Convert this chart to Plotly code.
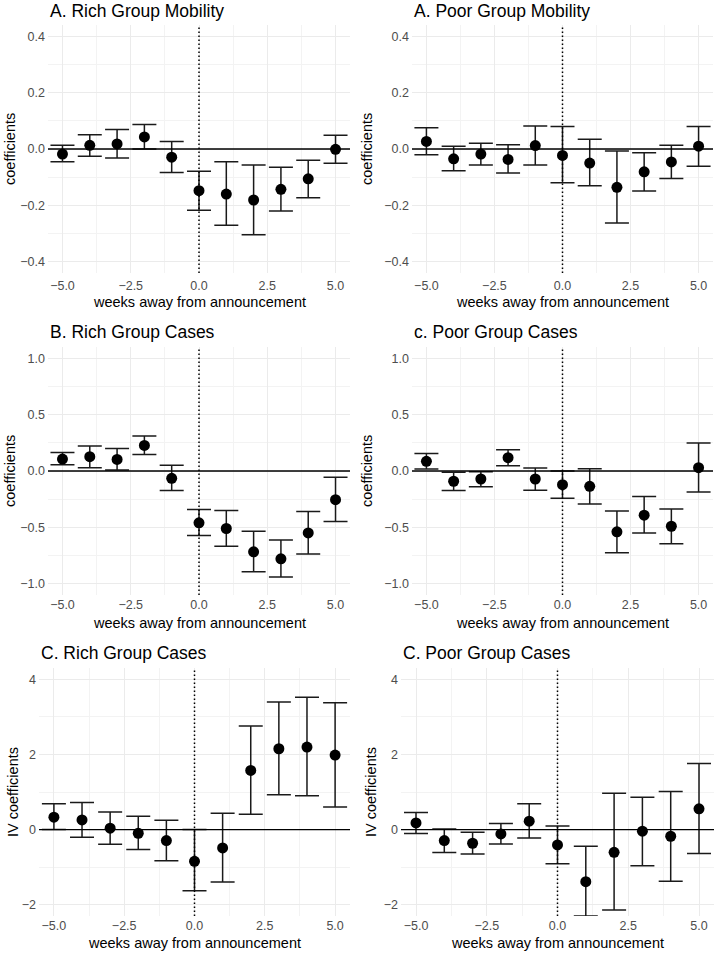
import plotly.graph_objects as go

weeks = [-5, -4, -3, -2, -1, 0, 1, 2, 3, 4, 5]

titles = ["A. Rich Group Mobility", "A. Poor Group Mobility",
          "B. Rich Group Cases", "c. Poor Group Cases",
          "C. Rich Group Cases", "C. Poor Group Cases"]
y_titles = ["coefficients", "coefficients", "coefficients", "coefficients",
            "IV coefficients", "IV coefficients"]
x_title = "weeks away from announcement"

# A. Rich mobility
rich_mob_est = [-0.018, 0.013, 0.018, 0.043, -0.029, -0.148, -0.160, -0.181, -0.143, -0.106, -0.001]
rich_mob_hi = [0.013, 0.051, 0.069, 0.087, 0.027, -0.079, -0.045, -0.057, -0.065, -0.040, 0.049]
rich_mob_lo = [-0.045, -0.026, -0.032, 0.000, -0.083, -0.217, -0.271, -0.304, -0.220, -0.173, -0.051]
# A. Poor mobility
poor_mob_est = [0.027, -0.035, -0.018, -0.037, 0.012, -0.023, -0.050, -0.136, -0.081, -0.046, 0.010]
poor_mob_hi = [0.075, 0.010, 0.020, 0.015, 0.082, 0.080, 0.035, -0.007, -0.013, 0.013, 0.080]
poor_mob_lo = [-0.020, -0.077, -0.057, -0.085, -0.057, -0.120, -0.130, -0.263, -0.149, -0.105, -0.061]
# B. Rich cases
rich_case_est = [0.106, 0.127, 0.103, 0.227, -0.065, -0.460, -0.510, -0.717, -0.779, -0.549, -0.254]
rich_case_hi = [0.165, 0.221, 0.200, 0.310, 0.050, -0.342, -0.351, -0.534, -0.611, -0.360, -0.056]
rich_case_lo = [0.056, 0.029, 0.009, 0.147, -0.174, -0.572, -0.667, -0.894, -0.941, -0.737, -0.448]
# c. Poor cases
poor_case_est = [0.086, -0.091, -0.071, 0.118, -0.071, -0.121, -0.136, -0.540, -0.392, -0.490, 0.029]
poor_case_hi = [0.156, -0.012, -0.006, 0.189, 0.027, 0.000, 0.021, -0.354, -0.227, -0.336, 0.248]
poor_case_lo = [0.018, -0.174, -0.139, 0.047, -0.171, -0.242, -0.292, -0.726, -0.549, -0.646, -0.186]
# C. Rich IV
rich_iv_est = [0.330, 0.258, 0.036, -0.098, -0.293, -0.844, -0.489, 1.573, 2.151, 2.196, 1.982]
rich_iv_hi = [0.684, 0.720, 0.470, 0.356, 0.249, 0.000, 0.436, 2.756, 3.396, 3.520, 3.378]
rich_iv_lo = [0.000, -0.204, -0.391, -0.533, -0.827, -1.627, -1.396, 0.409, 0.924, 0.898, 0.604]
# C. Poor IV
poor_iv_est = [0.178, -0.293, -0.364, -0.116, 0.222, -0.409, -1.387, -0.604, -0.044, -0.178, 0.551]
poor_iv_hi = [0.453, 0.018, -0.071, 0.160, 0.684, 0.098, -0.444, 0.969, 0.862, 1.013, 1.760]
poor_iv_lo = [-0.107, -0.613, -0.649, -0.382, -0.222, -0.907, -2.302, -2.142, -0.960, -1.378, -0.640]

panels_data = [
    (rich_mob_est, rich_mob_lo, rich_mob_hi),
    (poor_mob_est, poor_mob_lo, poor_mob_hi),
    (rich_case_est, rich_case_lo, rich_case_hi),
    (poor_case_est, poor_case_lo, poor_case_hi),
    (rich_iv_est, rich_iv_lo, rich_iv_hi),
    (poor_iv_est, poor_iv_lo, poor_iv_hi),
]

x_ticks = [-5, -2.5, 0, 2.5, 5]
x_minor = [-3.75, -1.25, 1.25, 3.75]
x_range = [-5.53, 5.53]
y_ticks_rows = [[-0.4, -0.2, 0.0, 0.2, 0.4], [-1.0, -0.5, 0.0, 0.5, 1.0], [-2, 0, 2, 4]]
y_minor_rows = [[-0.3, -0.1, 0.1, 0.3], [-0.75, -0.25, 0.25, 0.75], [-1, 1, 3]]
y_ranges = [[-0.44, 0.44], [-1.1, 1.1], [-2.3, 4.3]]
y_formats = [".1f", ".1f", "d"]

W, H = 714, 956
# panel pixel boxes (x0, x1, y0, y1)
boxes = [
    (48, 350, 25, 273), (412, 713, 25, 273),
    (48, 350, 347, 595), (412, 713, 347, 595),
    (39, 350, 668, 916), (401, 714, 668, 916),
]
x_standoff = [3, 3, 0, 0, 0, 0]
title_y = [11, 11, 332, 332, 653, 653]
xtitle_y = [302, 302, 623, 623, 943, 943]
ytitle_x = [10, 367, 10, 367, 13, 371]

fig = go.Figure()
layout = dict(width=W, height=H, margin=dict(l=0, r=0, t=0, b=0),
              plot_bgcolor="white", paper_bgcolor="white", showlegend=False,
              font=dict(family="Liberation Sans, Arial, sans-serif"))
annotations = []
shapes = []
grid_major = "#ebebeb"
grid_minor = "#f3f3f3"

for i, ((est, lo, hi), box) in enumerate(zip(panels_data, boxes)):
    n = i + 1
    row = i // 2
    sfx = "" if n == 1 else str(n)
    x0, x1, y0, y1 = box
    fig.add_trace(go.Scatter(
        x=weeks, y=est, mode="markers",
        marker=dict(color="black", size=11),
        error_y=dict(type="data", symmetric=False,
                     array=[h - e for h, e in zip(hi, est)],
                     arrayminus=[e - l for e, l in zip(est, lo)],
                     color="#1a1a1a", thickness=1.5, width=12),
        xaxis="x" + sfx, yaxis="y" + sfx, cliponaxis=False))
    layout["xaxis" + sfx] = dict(
        domain=[x0 / W, x1 / W], anchor="y" + sfx, range=x_range,
        tickmode="array", tickvals=x_ticks, tickformat=".1f",
        showgrid=True, gridcolor=grid_major, gridwidth=1, zeroline=False,
        showline=False, ticks="", ticklabelstandoff=x_standoff[i],
        tickfont=dict(size=12.5, color="#4d4d4d"),
        minor=dict(tickmode="array", tickvals=x_minor,
                   showgrid=True, gridcolor=grid_minor, gridwidth=1, ticks=""),
    )
    layout["yaxis" + sfx] = dict(
        domain=[1 - y1 / H, 1 - y0 / H], anchor="x" + sfx, range=y_ranges[row],
        tickmode="array", tickvals=y_ticks_rows[row], tickformat=y_formats[row],
        showgrid=True, gridcolor=grid_major, gridwidth=1, zeroline=False,
        showline=False, ticks="", ticklabelstandoff=2,
        tickfont=dict(size=12.5, color="#4d4d4d"),
        minor=dict(tickmode="array", tickvals=y_minor_rows[row],
                   showgrid=True, gridcolor=grid_minor, gridwidth=1, ticks=""),
    )
    shapes.append(dict(type="line", xref="x" + sfx, x0=x_range[0], x1=x_range[1],
                       yref="y" + sfx, y0=0, y1=0,
                       line=dict(color="black", width=1.4), layer="above"))
    yr = y_ranges[row]
    shapes.append(dict(type="line", xref="x" + sfx, x0=0, x1=0,
                       yref="y" + sfx, y0=yr[0], y1=yr[1],
                       line=dict(color="black", width=1.5, dash="1.5px,2.5px"), layer="above"))
    annotations.append(dict(text=titles[i], xref="paper", yref="paper",
                            x=x0 / W, y=1 - title_y[i] / H, xanchor="left", yanchor="middle",
                            showarrow=False, font=dict(size=17.5, color="black")))
    annotations.append(dict(text=x_title, xref="paper", yref="paper",
                            x=(x0 + x1) / 2 / W, y=1 - xtitle_y[i] / H,
                            xanchor="center", yanchor="middle",
                            showarrow=False, font=dict(size=14.5, color="black")))
    annotations.append(dict(text=y_titles[i], xref="paper", yref="paper",
                            x=ytitle_x[i] / W, y=1 - (y0 + y1) / 2 / H,
                            xanchor="center", yanchor="middle", textangle=-90,
                            showarrow=False, font=dict(size=14.5, color="black")))

layout["annotations"] = annotations
layout["shapes"] = shapes
fig.update_layout(**layout)
fig.write_html("out.html", config={"displayModeBar": False},
               post_script="document.body.style.margin='0';document.body.style.padding='0';")
